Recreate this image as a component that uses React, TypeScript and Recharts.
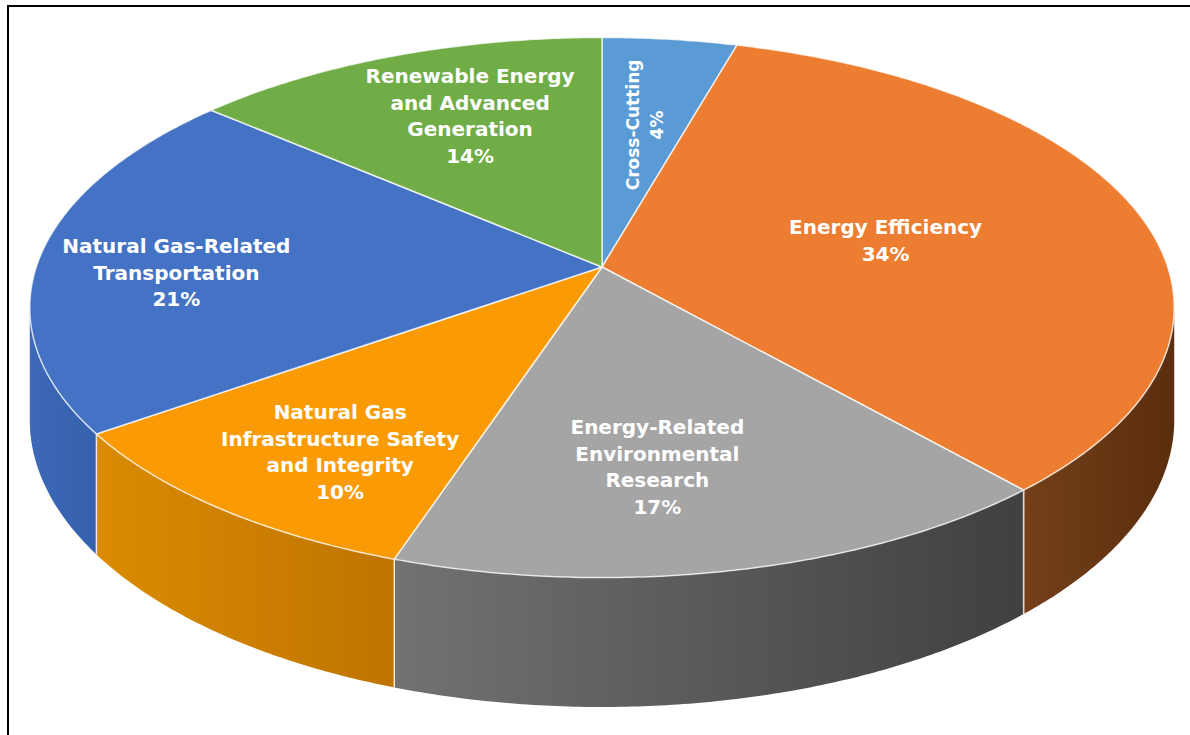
import React from 'react';
import { PieChart, Pie, Cell } from 'recharts';

const categories = [
  'Cross-Cutting',
  'Energy Efficiency',
  'Energy-Related Environmental Research',
  'Natural Gas Infrastructure Safety and Integrity',
  'Natural Gas-Related Transportation',
  'Renewable Energy and Advanced Generation',
];
const shares = [4.4, 34.1, 16.6, 10.1, 21.1, 13.7];
const labelLines = [
  ['Cross-Cutting'],
  ['Energy Efficiency'],
  ['Energy-Related', 'Environmental', 'Research'],
  ['Natural Gas', 'Infrastructure Safety', 'and Integrity'],
  ['Natural Gas-Related', 'Transportation'],
  ['Renewable Energy', 'and Advanced', 'Generation'],
];
const topColors = ['#5B9BD5', '#ED7D31', '#A5A5A5', '#FA9B06', '#4472C4', '#70AD47'];
const wallColors = [
  ['#4a82b8', '#3f74a6'],
  ['#75401a', '#5a2d0d'],
  ['#727272', '#404040'],
  ['#DA8B02', '#BF7400'],
  ['#3d69b8', '#3560ad'],
  ['#5e9a3a', '#4e8530'],
];

const data = categories.map((name, i) => ({ name, value: shares[i] }));

// projection settings (style)
const ASPECT = 2.143;
const PERSP = 0.15;
const DEPTH = 110;
const FONT = '"DejaVu Sans", Verdana, sans-serif';
const labelNudge = [
  [0, 2],
  [-41, 8],
  [-19, 30],
  [-44, 48],
  [-88, 13],
  [-1, -18],
];

const proj = (cx: number, cy: number, ry: number, th: number, f = 1) => {
  const r = (th * Math.PI) / 180;
  const c = Math.cos(r);
  const s = Math.sin(r);
  const d = 1 + PERSP * f * c;
  return { x: cx + (ry * ASPECT * f * s) / d, y: cy - (ry * f * c) / d, d };
};

const Slice3D = (props: any) => {
  const { cx, cy, outerRadius, startAngle, endAngle } = props;
  const name = props.name ?? props.payload?.name;
  const idx = Math.max(0, categories.indexOf(name));
  const t0 = 90 - startAngle;
  const t1 = 90 - endAngle;
  const a = Math.min(t0, t1);
  const b = Math.max(t0, t1);
  const ry = outerRadius;
  const pts: string[] = [];
  const n = Math.max(2, Math.ceil((b - a) / 0.5));
  for (let i = 0; i <= n; i++) {
    const p = proj(cx, cy, ry, a + ((b - a) * i) / n);
    pts.push(`${p.x.toFixed(2)},${p.y.toFixed(2)}`);
  }
  const topPath = `M${cx},${cy} L${pts.join(' L')} Z`;
  const lim = (Math.acos(-PERSP) * 180) / Math.PI;
  const wa = Math.max(a, lim);
  const wb = Math.min(b, 360 - lim);
  let wallPath = '';
  const edges: any[] = [];
  if (wb > wa) {
    const up: string[] = [];
    const dn: string[] = [];
    const m = Math.max(2, Math.ceil((wb - wa) / 0.5));
    for (let i = 0; i <= m; i++) {
      const p = proj(cx, cy, ry, wa + ((wb - wa) * i) / m);
      up.push(`${p.x.toFixed(2)},${p.y.toFixed(2)}`);
      dn.unshift(`${p.x.toFixed(2)},${(p.y + DEPTH / p.d).toFixed(2)}`);
    }
    wallPath = `M${up.join(' L')} L${dn.join(' L')} Z`;
    [a, b].forEach((t) => {
      if (t >= lim && t <= 360 - lim) {
        const p = proj(cx, cy, ry, t);
        edges.push({ x: p.x, y1: p.y, y2: p.y + DEPTH / p.d });
      }
    });
  }
  const gid = `wallgrad-${idx}`;
  return (
    <g>
      <defs>
        <linearGradient id={gid} x1="0" y1="0" x2="1" y2="0">
          <stop offset="0%" stopColor={wallColors[idx][0]} />
          <stop offset="100%" stopColor={wallColors[idx][1]} />
        </linearGradient>
      </defs>
      {wallPath && <path d={wallPath} fill={`url(#${gid})`} stroke="none" />}
      {edges.map((e, i) => (
        <line key={i} x1={e.x} x2={e.x} y1={e.y1} y2={e.y2} stroke="#ffffff" strokeOpacity={0.7} strokeWidth={1.5} />
      ))}
      <path d={topPath} fill={topColors[idx]} stroke="#ffffff" strokeOpacity={0.75} strokeWidth={1.5} strokeLinejoin="round" />
    </g>
  );
};

const renderLabel = (props: any) => {
  const { cx, cy, outerRadius, midAngle, percent, index } = props;
  const th = 90 - midAngle;
  const p = proj(cx, cy, outerRadius, th, 0.6);
  const x = p.x + labelNudge[index][0];
  const y = p.y + labelNudge[index][1];
  const lines = [...labelLines[index], `${Math.round(percent * 100)}%`];
  const rotate = index === 0;
  const lh = rotate ? 24 : 26.5;
  const first = -((lines.length - 1) * lh) / 2;
  return (
    <text
      key={`lbl-${index}`}
      x={x}
      y={y}
      fill="#ffffff"
      fontFamily={FONT}
      fontWeight="bold"
      fontSize={rotate ? 17 : 20}
      textAnchor="middle"
      dominantBaseline="central"
      transform={rotate ? `rotate(-90 ${x} ${y})` : undefined}
    >
      {lines.map((l, i) => (
        <tspan key={i} x={x} dy={i === 0 ? first : lh}>
          {l}
        </tspan>
      ))}
    </text>
  );
};

export default function App() {
  return (
    <div style={{ position: 'fixed', left: 0, top: 0, width: 1190, height: 735, background: '#fff', overflow: 'hidden' }}>
      <svg width={1190} height={735} style={{ position: 'absolute', left: 0, top: 0 }}>
        <line x1={7} y1={6} x2={1190} y2={6} stroke="#000" strokeWidth={2} />
        <line x1={8} y1={5} x2={8} y2={735} stroke="#000" strokeWidth={2} />
      </svg>
      <div style={{ position: 'absolute', left: 0, top: 0 }}>
        <PieChart width={1190} height={735}>
          <Pie
            data={data}
            dataKey="value"
            nameKey="name"
            cx={597}
            cy={262}
            outerRadius={264}
            startAngle={90}
            endAngle={-270}
            isAnimationActive={false}
            shape={Slice3D}
            label={renderLabel}
            labelLine={false}
            stroke="none"
          >
            {data.map((d, i) => (
              <Cell key={d.name} fill={topColors[i]} />
            ))}
          </Pie>
        </PieChart>
      </div>
    </div>
  );
}
